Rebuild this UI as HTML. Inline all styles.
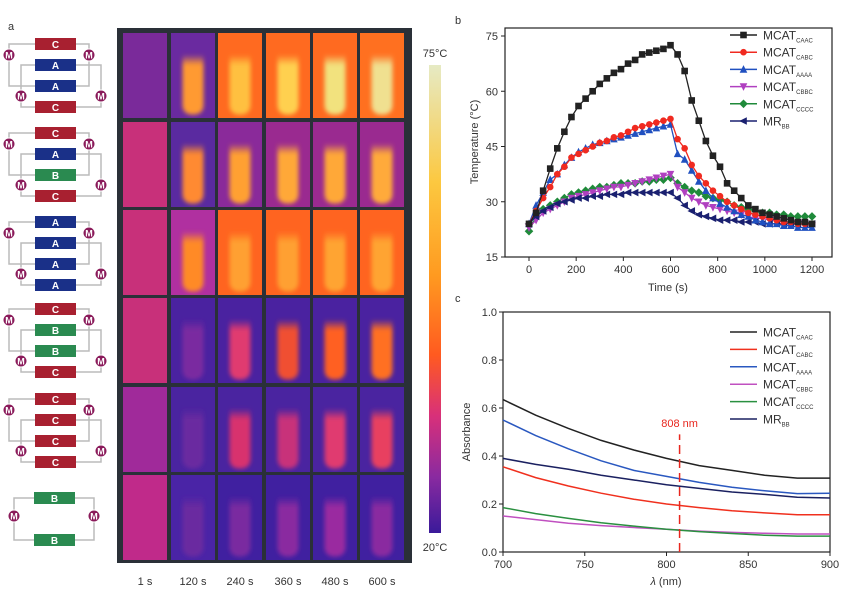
<!DOCTYPE html>
<html><head><meta charset="utf-8"><style>
body{margin:0;background:#fff;}
svg{display:block;font-family:"Liberation Sans",Arial,sans-serif;}
</style></head><body>
<svg id="fig" width="865" height="601" viewBox="0 0 865 601">
<defs>
<linearGradient id="cbar" x1="0" y1="1" x2="0" y2="0">
<stop offset="0" stop-color="#3a1a9a"/><stop offset="0.12" stop-color="#8a2aa0"/><stop offset="0.25" stop-color="#d8307a"/><stop offset="0.38" stop-color="#ff5a20"/><stop offset="0.55" stop-color="#ff9a20"/><stop offset="0.75" stop-color="#fcc840"/><stop offset="1" stop-color="#e6eac4"/>
</linearGradient>
<filter id="blur" x="-30%" y="-30%" width="160%" height="160%"><feGaussianBlur stdDeviation="2.2"/></filter>
<linearGradient id="tubefade" x1="0" y1="0" x2="0" y2="1"><stop offset="0" stop-color="#fff" stop-opacity="0"/><stop offset="0.18" stop-color="#fff" stop-opacity="1"/><stop offset="1" stop-color="#fff" stop-opacity="1"/></linearGradient>
<mask id="fadeMask" maskContentUnits="objectBoundingBox"><rect x="0" y="0" width="1" height="1" fill="url(#tubefade)"/></mask>
</defs>
<text x="8" y="30" font-size="11" fill="#333">a</text>
<text x="455" y="24" font-size="11" fill="#333">b</text>
<text x="455" y="302" font-size="11" fill="#333">c</text>
<g id="diagrams"></g>
<rect x="117" y="28" width="295" height="535" fill="#2a3038"/>
<g id="thermal"></g>
<rect x="429" y="65" width="12" height="468" fill="url(#cbar)"/>
<text x="435" y="57" font-size="11" fill="#333" text-anchor="middle">75°C</text>
<text x="435" y="551" font-size="11" fill="#333" text-anchor="middle">20°C</text>
<g id="chartb"></g>
<g id="chartc"></g>
</svg>
<script>
// ---- panel b data ----
const timeS = [0,30,60,90,120,150,180,210,240,270,300,330,360,390,420,450,480,510,540,570,600,630,660,690,720,750,780,810,840,870,900,930,960,990,1020,1050,1080,1110,1140,1170,1200];
const tempCAAC = [24,27,33,39,44.5,49,53,56,58,60,62,63.5,65,66,67.5,68.5,70,70.5,71,71.5,72.5,70,65.5,57.5,52,46.5,42.5,39.5,35,33,31,29,28,27,26.5,26,25.5,25,24.5,24.5,24];
const tempCABC = [24,27.5,31,34,37.5,39.5,42,43,44,45,46,46.5,47.5,48,49,50,50.5,51,51.5,52,52.5,47,44.5,40,37,35,33,31.5,30,29,28,27,26.5,26,25.5,25,24.5,24.5,24,24,24];
const tempAAAA = [24,29,32.5,36,37.5,40,42,43.5,44.5,45.5,46,46.5,47,47.5,48,48.5,49,49.5,50,50.5,51,43,41.5,38.5,35.5,33,31,29.5,28.5,27.5,26.5,26,25,24.5,24,24,23.5,23.5,23,23,23];
const tempCBBC = [23,25,27,28,29,30,31,31.5,32,32.5,33,33.5,34,34,34.5,35,35.5,36,36.5,37,37.5,34,32.5,31,30,29,28.5,28,27.5,27,26.5,26,25.5,25.5,25,25,24.5,24.5,24,24,23.5];
const tempCCCC = [22,26,28,29,30,31,32,32.5,33,33.5,34,34,34.5,35,35,35,35.5,35.5,36,36,36.5,35,34,33,32.5,31.5,31,30.5,30,29,28.5,28,27.5,27,27,26.5,26.5,26,26,26,26];
const tempMRBB = [24,26,27.5,28.5,29.5,30,30.5,31,31,31.5,31.5,32,32,32,32.5,32.5,32.5,32.5,32.5,32.5,32.5,31,29,27.5,26.5,26,25.5,25,25,25,24.5,24.5,24.5,24,24,24,24,24,24,24,24];
const bXTicks = [0,200,400,600,800,1000,1200];
const bYTicks = [15,30,45,60,75];
// ---- panel c data ----
const wavelength = [700,720,740,760,780,800,820,840,860,880,900];
const absCAAC = [0.635,0.57,0.515,0.465,0.425,0.39,0.36,0.34,0.32,0.308,0.308];
const absCABC = [0.355,0.31,0.275,0.245,0.22,0.2,0.185,0.172,0.163,0.155,0.155];
const absAAAA = [0.55,0.485,0.43,0.38,0.34,0.315,0.29,0.27,0.255,0.243,0.245];
const absCBBC = [0.15,0.135,0.12,0.11,0.102,0.095,0.087,0.082,0.078,0.075,0.075];
const absCCCC = [0.185,0.16,0.14,0.122,0.108,0.095,0.085,0.077,0.07,0.066,0.066];
const absMRBB = [0.39,0.365,0.345,0.32,0.3,0.28,0.265,0.25,0.24,0.228,0.225];
const cXTicks = [700,750,800,850,900];
const cYTicks = [0.0,0.2,0.4,0.6,0.8,1.0];
const timeLabels = ['1 s','120 s','240 s','360 s','480 s','600 s'];

const NS='http://www.w3.org/2000/svg';
function mk(tag,attrs,parent){const e=document.createElementNS(NS,tag);for(const k in attrs)e.setAttribute(k,attrs[k]);parent.appendChild(e);return e;}

// ---- diagrams ----
const dg=document.getElementById('diagrams');
const blockCol={C:'#a82030',A:'#1a3088',B:'#2a8a50'};
const groups=[[44,['C','A','A','C']],[133,['C','A','B','C']],[222,['A','A','A','A']],[309,['C','B','B','C']],[399,['C','C','C','C']]];
function mCircle(x,y){const c=mk('circle',{cx:x,cy:y,r:6,fill:'#8a1a5a',stroke:'#fff','stroke-width':1},dg);

const t=mk('text',{x:x,y:y+3.5,'font-size':9,'font-weight':'bold',fill:'#fff','text-anchor':'middle'},dg);t.textContent='M';}
function block(y,l,x0,w){const r=mk('rect',{x:x0,y:y-6,width:w,height:12,fill:blockCol[l]},dg);

const t=mk('text',{x:x0+w/2,y:y+4,'font-size':10,'font-weight':'bold',fill:'#fff','text-anchor':'middle'},dg);t.textContent=l;}
groups.forEach(([y0,ls])=>{
  mk('path',{d:`M35 ${y0}H9V${y0+42}H35 M76 ${y0}H89V${y0+42}H76`,fill:'none',stroke:'#bbb','stroke-width':1.5},dg);
  mk('path',{d:`M35 ${y0+21}H21V${y0+63}H35 M76 ${y0+21}H101V${y0+63}H76`,fill:'none',stroke:'#bbb','stroke-width':1.5},dg);
  ls.forEach((l,i)=>block(y0+i*21,l,35,41));
  mCircle(9,y0+11);mCircle(89,y0+11);mCircle(21,y0+52);mCircle(101,y0+52);
});
mk('path',{d:'M34 498H14V540H34 M75 498H94V540H75',fill:'none',stroke:'#bbb','stroke-width':1.5},dg);
block(498,'B',34,41);block(540,'B',34,41);mCircle(14,516);mCircle(94,516);

// ---- thermal grid ----
const th=document.getElementById('thermal');
const colX=[123,171,218,266,313,360], colW=44;
const rowY=[33,122,210,298,387,475], rowH=85;
const bg=[['#7a2a9a','#6a2aa0','#ff6a20','#ff6a20','#ff6a20','#ff7020'],
['#c8307a','#5a2aa0','#8a2a9a','#9a2a90','#9a2a90','#9a2a90'],
['#c8307a','#b030a0','#ff6420','#ff6420','#ff6420','#ff6420'],
['#c8307a','#4a22a0','#4a22a0','#4a22a0','#4a22a0','#4a22a0'],
['#a02a9a','#4a24a0','#4a24a0','#4a24a0','#4a24a0','#4a24a0'],
['#c02a8a','#4a24a6','#4020a0','#4020a0','#4020a0','#4020a0']];
const tube=[[null,'#ff9a30','#ffc040','#ffd050','#f2e27e','#f0e090'],
[null,'#ff8a30','#ffa030','#ffa838','#ffa838','#ffaa3a'],
[null,'#ff8a28','#ffa030','#ffa030','#ffa432','#ffa432'],
[null,'#7a2aa0','#e03a70','#f05030','#ff6020','#ff7020'],
[null,'#6a2aa0','#d8306e','#c8307a','#e03a70','#e84060'],
[null,'#6a2aa0','#7a2aa0','#8a2aa0','#9a2aa0','#8a2aa0']];
for(let r=0;r<6;r++)for(let c=0;c<6;c++){
  const x=colX[c],y=rowY[r];
  const cell=mk('rect',{x:x,y:y,width:colW,height:rowH,fill:bg[r][c]},th);
  
  if(tube[r][c]){const cx=x+colW/2,top=y+rowH*0.25,bot=y+rowH*0.96,hw=10.5;
    const g=mk('g',{filter:'url(#blur)'},th);
    const cp=mk('clipPath',{id:'cl'+r+c},th);mk('rect',{x:x,y:y,width:colW,height:rowH},cp);
    g.setAttribute('clip-path','url(#cl'+r+c+')');
    mk('path',{d:`M${cx-hw} ${top}V${bot-10}Q${cx-hw} ${bot} ${cx} ${bot}Q${cx+hw} ${bot} ${cx+hw} ${bot-10}V${top}Z`,fill:tube[r][c],mask:'url(#fadeMask)'},g);}
}
timeLabels.forEach((l,i)=>{const t=mk('text',{x:colX[i]+colW/2,y:585,'font-size':11,fill:'#333','text-anchor':'middle'},th);t.textContent=l;
});

// ---- chart b ----
const gb=document.getElementById('chartb');
const bL=505,bR=832,bT=28,bB=257;
const bx=v=>529+(v-0)*(812-529)/1200, by=v=>257-(v-15)*(257-36)/60;
mk('rect',{x:bL,y:bT,width:bR-bL,height:bB-bT,fill:'none',stroke:'#222','stroke-width':1.2},gb);
bXTicks.forEach(v=>{mk('line',{x1:bx(v),x2:bx(v),y1:bB,y2:bB+4,stroke:'#222'},gb);
const t=mk('text',{x:bx(v),y:bB+16,'font-size':11,fill:'#333','text-anchor':'middle'},gb);t.textContent=v;});
bYTicks.forEach(v=>{mk('line',{x1:bL-4,x2:bL,y1:by(v),y2:by(v),stroke:'#222'},gb);
const t=mk('text',{x:bL-7,y:by(v)+4,'font-size':11,fill:'#333','text-anchor':'end'},gb);t.textContent=v;});
let tx=mk('text',{x:668,y:291,'font-size':11,fill:'#333','text-anchor':'middle'},gb);tx.textContent='Time (s)';
tx=mk('text',{x:0,y:0,'font-size':11,fill:'#333','text-anchor':'middle',transform:`translate(478,142) rotate(-90)`},gb);tx.textContent='Temperature (°C)';
function marker(g,shape,x,y,col){const s=3.3;
  if(shape==='sq')return mk('rect',{x:x-s,y:y-s,width:2*s,height:2*s,fill:col},g);
  if(shape==='ci')return mk('circle',{cx:x,cy:y,r:s,fill:col},g);
  let p;
  if(shape==='up')p=`${x},${y-s-1} ${x-s-0.5},${y+s} ${x+s+0.5},${y+s}`;
  if(shape==='dn')p=`${x},${y+s+1} ${x-s-0.5},${y-s} ${x+s+0.5},${y-s}`;
  if(shape==='di')p=`${x},${y-s-1} ${x+s+1},${y} ${x},${y+s+1} ${x-s-1},${y}`;
  if(shape==='lt')p=`${x-s-1},${y} ${x+s},${y-s-0.5} ${x+s},${y+s+0.5}`;
  return mk('polygon',{points:p,fill:col},g);}
const bSeries=[[tempCCCC,'#1f8a3a','di','CCCC'],[tempCBBC,'#b040c0','dn','CBBC'],[tempMRBB,'#1a2070','lt','BB'],[tempAAAA,'#2050c0','up','AAAA'],[tempCABC,'#f02a20','ci','CABC'],[tempCAAC,'#222','sq','CAAC']];
bSeries.forEach(([d,col,sh,nm])=>{
  const g=mk('g',{},gb);
  
  mk('polyline',{points:d.map((v,i)=>bx(timeS[i])+','+by(v)).join(' '),fill:'none',stroke:col,'stroke-width':1.3},g);
  d.forEach((v,i)=>marker(g,sh,bx(timeS[i]),by(v),col));
});
const legB=[['CAAC','#222','sq','MCAT'],['CABC','#f02a20','ci','MCAT'],['AAAA','#2050c0','up','MCAT'],['CBBC','#b040c0','dn','MCAT'],['CCCC','#1f8a3a','di','MCAT'],['BB','#1a2070','lt','MR']];
legB.forEach(([sub,col,sh,main],i)=>{const y=35+i*17.2;const g=mk('g',{},gb);
  
  mk('line',{x1:730,x2:757,y1:y,y2:y,stroke:col,'stroke-width':1.5},g);marker(g,sh,743.5,y,col);
  const t=mk('text',{x:763,y:y+4.5,'font-size':12,fill:'#333'},g);t.textContent=main;
  const s=mk('tspan',{'font-size':6,dy:3},t);s.textContent=sub;});

// ---- chart c ----
const gc=document.getElementById('chartc');
const cL=503,cR=830,cT=312,cB=552;
const cx=v=>cL+(v-700)*(cR-cL)/200, cy=v=>cB-v*(cB-cT);
mk('rect',{x:cL,y:cT,width:cR-cL,height:cB-cT,fill:'none',stroke:'#222','stroke-width':1.2},gc);
cXTicks.forEach(v=>{mk('line',{x1:cx(v),x2:cx(v),y1:cB,y2:cB+4,stroke:'#222'},gc);
const t=mk('text',{x:cx(v),y:cB+16,'font-size':11,fill:'#333','text-anchor':'middle'},gc);t.textContent=v;});
cYTicks.forEach(v=>{mk('line',{x1:cL-4,x2:cL,y1:cy(v),y2:cy(v),stroke:'#222'},gc);
const t=mk('text',{x:cL-6,y:cy(v)+4,'font-size':11,fill:'#333','text-anchor':'end'},gc);t.textContent=v.toFixed(1);});
tx=mk('text',{x:666,y:585,'font-size':11,fill:'#333','text-anchor':'middle'},gc);tx.innerHTML='<tspan font-style="italic">λ</tspan> (nm)';
tx=mk('text',{x:0,y:0,'font-size':11,fill:'#333','text-anchor':'middle',transform:`translate(470,432) rotate(-90)`},gc);tx.textContent='Absorbance';
const cSeries=[[absCBBC,'#c050c0','CBBC'],[absCCCC,'#2a9040','CCCC'],[absCABC,'#f0301e','CABC'],[absMRBB,'#1a2060','BB'],[absAAAA,'#2a58c0','AAAA'],[absCAAC,'#222','CAAC']];
cSeries.forEach(([d,col,nm])=>{const p=mk('polyline',{points:d.map((v,i)=>cx(wavelength[i])+','+cy(v)).join(' '),fill:'none',stroke:col,'stroke-width':1.5},gc);
});
const ml=mk('line',{x1:cx(808),x2:cx(808),y1:cB,y2:cy(0.49),stroke:'#e8261e','stroke-width':1.5,'stroke-dasharray':'9,5'},gc);

tx=mk('text',{x:cx(808),y:cy(0.52),'font-size':11,fill:'#e8261e','text-anchor':'middle'},gc);tx.textContent='808 nm';
const legC=[['CAAC','#222','MCAT'],['CABC','#f0301e','MCAT'],['AAAA','#2a58c0','MCAT'],['CBBC','#c050c0','MCAT'],['CCCC','#2a9040','MCAT'],['BB','#1a2060','MR']];
legC.forEach(([sub,col,main],i)=>{const y=332+i*17.4;const g=mk('g',{},gc);
  
  mk('line',{x1:730,x2:757,y1:y,y2:y,stroke:col,'stroke-width':1.5},g);
  const t=mk('text',{x:763,y:y+4.5,'font-size':12,fill:'#333'},g);t.textContent=main;
  const s=mk('tspan',{'font-size':6,dy:3},t);s.textContent=sub;});
</script>
</body></html>
